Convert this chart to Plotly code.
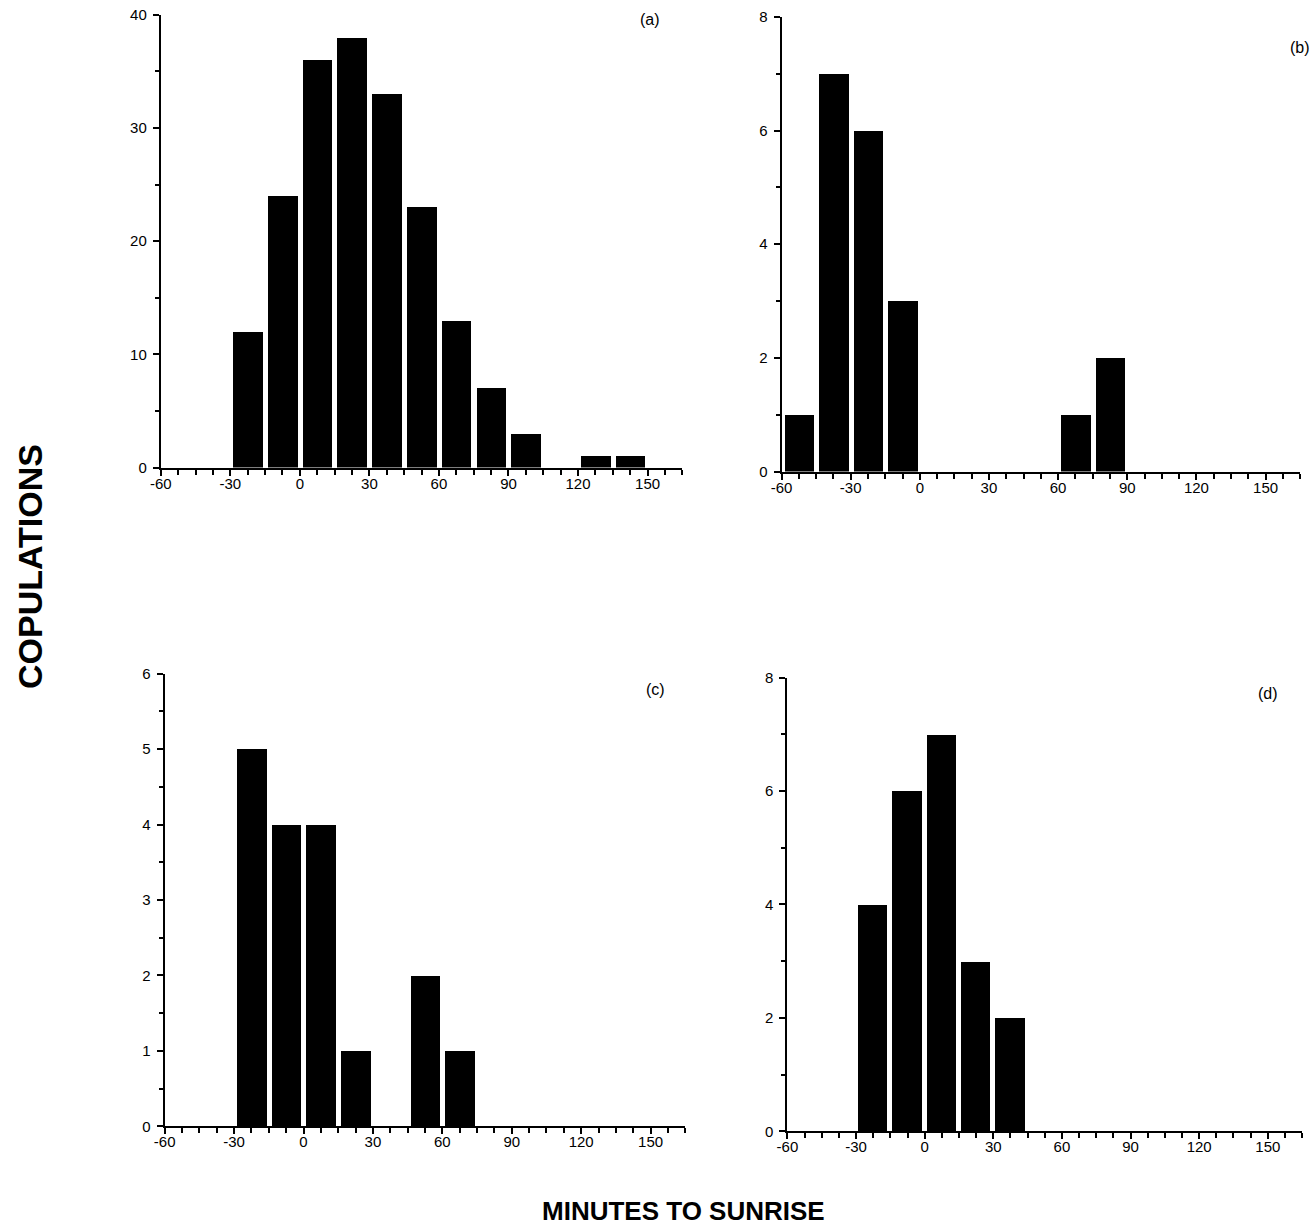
import plotly.graph_objects as go

# ---- data ----
centers_a = [-22.5, -7.5, 7.5, 22.5, 37.5, 52.5, 67.5, 82.5, 97.5, 112.5, 127.5, 142.5]
counts_a = [12, 24, 36, 38, 33, 23, 13, 7, 3, 0, 1, 1]

centers_b = [-52.5, -37.5, -22.5, -7.5, 7.5, 22.5, 37.5, 52.5, 67.5, 82.5]
counts_b = [1, 7, 6, 3, 0, 0, 0, 0, 1, 2]

centers_c = [-22.5, -7.5, 7.5, 22.5, 37.5, 52.5, 67.5]
counts_c = [5, 4, 4, 1, 0, 2, 1]

centers_d = [-22.5, -7.5, 7.5, 22.5, 37.5]
counts_d = [4, 6, 7, 3, 2]

x_tickvals = [-60, -30, 0, 30, 60, 90, 120, 150]
x_ticktext = ["-60", "-30", "0", "30", "60", "90", "120", "150"]
panel_labels = ["(a)", "(b)", "(c)", "(d)"]
y_max = [40, 8, 6, 8]
y_major = [10, 2, 1, 2]

W, H = 1316, 1232

def px_x(p):
    return p / W

def px_y(p):
    return 1 - p / H

# pixel boxes: (x_left, x_right, y_top, y_bottom)
boxes = [
    (151, 677, 6, 465),
    (777, 1300, 8, 469),
    (155, 680, 674, 1133),
    (783, 1302, 678, 1138),
]

data_sets = [(centers_a, counts_a), (centers_b, counts_b), (centers_c, counts_c), (centers_d, counts_d)]

fig = go.Figure()
font_family = "Liberation Sans, Arial, sans-serif"

for i, ((cx, cy), box) in enumerate(zip(data_sets, boxes)):
    n = "" if i == 0 else str(i + 1)
    xa = "x" + n
    ya = "y" + n
    fig.add_trace(go.Bar(
        x=cx, y=cy, width=12.8,
        marker=dict(color="black", line=dict(width=0)),
        xaxis=xa, yaxis=ya, showlegend=False,
    ))
    xl, xr, yt, yb = box
    fig.layout["xaxis" + n] = dict(
        domain=[px_x(xl), px_x(xr)], anchor=ya, range=[-60, 165],
        tickvals=x_tickvals, ticktext=x_ticktext,
        ticks="outside", ticklen=6, tickwidth=1.5, tickcolor="black",
        minor=dict(dtick=7.5, tick0=-60, ticks="outside", ticklen=5, tickwidth=1.5, tickcolor="black"),
        showline=True, linecolor="black", linewidth=2,
        showgrid=False, zeroline=False, fixedrange=True,
        ticklabelstandoff=-5,
        tickfont=dict(family=font_family, size=15, color="black"),
    )
    fig.layout["yaxis" + n] = dict(
        domain=[px_y(yb), px_y(yt)], anchor=xa, range=[0, y_max[i]],
        dtick=y_major[i], tick0=0,
        ticks="outside", ticklen=6, tickwidth=1.5, tickcolor="black",
        minor=dict(dtick=y_major[i] / 2, ticks="outside", ticklen=4, tickwidth=1.5, tickcolor="black"),
        showline=True, linecolor="black", linewidth=2,
        showgrid=False, zeroline=False, fixedrange=True,
        ticklabelstandoff=3,
        tickfont=dict(family=font_family, size=15, color="black"),
    )

label_pos = [(644, 11), (1300, 39), (650, 690), (1268, 694)]
for lab, (lx, ly) in zip(panel_labels, label_pos):
    fig.add_annotation(text=lab, x=px_x(lx), y=px_y(ly), xref="paper", yref="paper",
                       showarrow=False, xanchor="center", yanchor="middle",
                       font=dict(family=font_family, size=16, color="black"))

fig.add_annotation(text="<b>COPULATIONS</b>", x=px_x(19), y=px_y(565), xref="paper", yref="paper",
                   showarrow=False, textangle=-90, xanchor="center", yanchor="middle",
                   font=dict(family=font_family, size=34, color="black"))
fig.add_annotation(text="<b>MINUTES TO SUNRISE</b>", x=px_x(678), y=px_y(1219), xref="paper", yref="paper",
                   showarrow=False, xanchor="center", yanchor="middle",
                   font=dict(family=font_family, size=26, color="black"))

fig.update_layout(
    width=W, height=H, margin=dict(l=0, r=0, t=0, b=0),
    paper_bgcolor="white", plot_bgcolor="white", bargap=0,
)

fig.write_html("out.html", config={"displayModeBar": False})
